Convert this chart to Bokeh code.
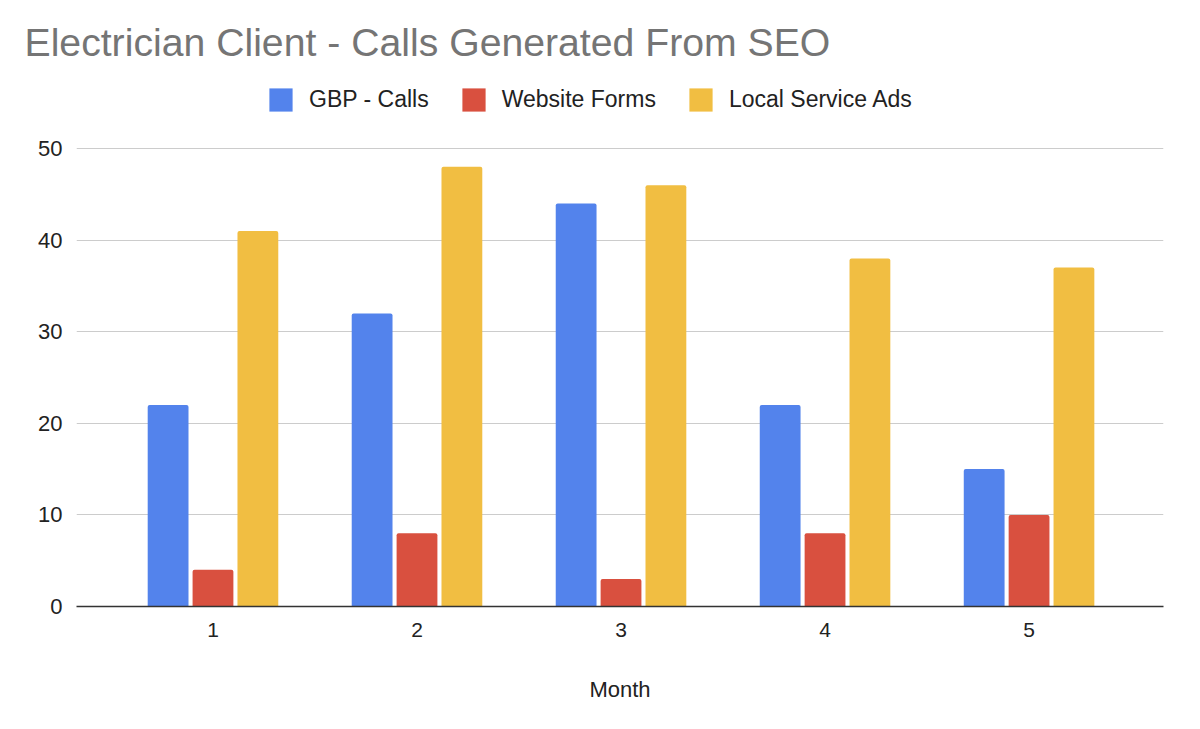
from bokeh.plotting import figure
from bokeh.models import ColumnDataSource, Range1d, FixedTicker, Legend, LegendItem
from bokeh.transform import dodge
from bokeh.embed import file_html
from bokeh.resources import INLINE

# ---- data ----
months = [1, 2, 3, 4, 5]
gbp_calls = [22, 32, 44, 22, 15]
website_forms = [4, 8, 3, 8, 10]
local_service_ads = [41, 48, 46, 38, 37]
series_names = ["GBP - Calls", "Website Forms", "Local Service Ads"]
series_cols = ["gbp", "forms", "lsa"]
colors = ["#5383EC", "#D9503F", "#F1BE42"]
y_ticks = [0, 10, 20, 30, 40, 50]
x_ticks = months
title_text = "Electrician Client - Calls Generated From SEO"
x_label = "Month"

FONT = "Liberation Sans"

source = ColumnDataSource(data=dict(month=months, gbp=gbp_calls,
                                    forms=website_forms, lsa=local_service_ads))

TOP = 70
y_end = (606 - TOP) * 50 / 458.0

p = figure(width=1184, height=713, output_backend="svg", toolbar_location=None,
           x_range=Range1d(0.331, 5.659), y_range=Range1d(0, y_end),
           min_border_left=76, min_border_right=21, min_border_top=TOP,
           min_border_bottom=107)

p.outline_line_color = None
p.background_fill_color = "white"
p.border_fill_color = "white"

# title
p.title.text = title_text
p.title.align = "left"
p.title.offset = -52
p.title.standoff = 13
p.title.text_font = FONT
p.title.text_font_size = "39.2px"
p.title.text_font_style = "normal"
p.title.text_color = "#757575"

offsets = [-0.22, 0.0, 0.22]
renderers = []
for col, name, color, off in zip(series_cols, series_names, colors, offsets):
    r = p.vbar(x=dodge("month", off), top=col, width=0.2, bottom=0,
               source=source, fill_color=color, line_color=None,
               border_radius=(2, 2, 0, 0))
    renderers.append((name, r))

# grid
p.xgrid.grid_line_color = None
p.ygrid.grid_line_color = "#cccccc"
p.ygrid.grid_line_width = 1
p.ygrid.ticker = FixedTicker(ticks=y_ticks)

# y axis
p.yaxis.ticker = FixedTicker(ticks=y_ticks)
p.yaxis.axis_line_color = None
p.yaxis.major_tick_line_color = None
p.yaxis.minor_tick_line_color = None
p.yaxis.major_tick_out = 0
p.yaxis.major_tick_in = 0
p.yaxis.major_label_standoff = 14
p.yaxis.major_label_text_font = FONT
p.yaxis.major_label_text_font_size = "22px"
p.yaxis.major_label_text_color = "#222222"

# x axis
p.xaxis.ticker = FixedTicker(ticks=x_ticks)
p.xaxis.axis_line_color = "#333333"
p.xaxis.axis_line_width = 1.5
p.xaxis.major_tick_line_color = None
p.xaxis.minor_tick_line_color = None
p.xaxis.major_tick_out = 0
p.xaxis.major_tick_in = 0
p.xaxis.major_label_standoff = 16
p.xaxis.major_label_text_font = FONT
p.xaxis.major_label_text_font_size = "21px"
p.xaxis.major_label_text_color = "#222222"
p.xaxis.axis_label = x_label
p.xaxis.axis_label_text_font = FONT
p.xaxis.axis_label_text_font_size = "22px"
p.xaxis.axis_label_text_font_style = "normal"
p.xaxis.axis_label_text_color = "#222222"
p.xaxis.axis_label_standoff = 37

# legend (inside the frame, above the 50 gridline)
legend = Legend(items=[LegendItem(label=n, renderers=[r]) for n, r in renderers],
                location=(190, 492), orientation="horizontal",
                glyph_width=29, glyph_height=29, label_standoff=14, spacing=30,
                padding=0, margin=0, border_line_color=None,
                background_fill_alpha=0,
                label_text_font=FONT, label_text_font_size="23px",
                label_text_color="#222222", label_height=29)
p.add_layout(legend)

open("out.html", "w").write(file_html(p, INLINE))
